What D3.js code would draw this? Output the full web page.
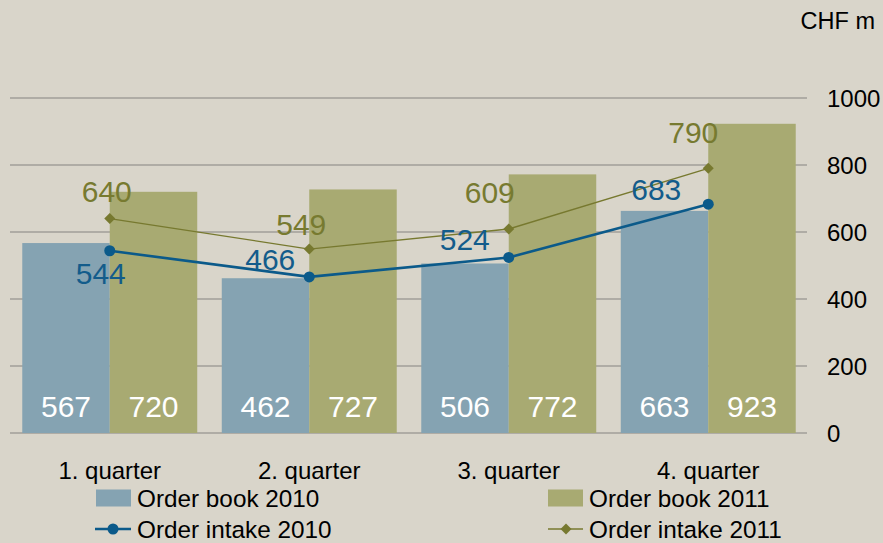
<!DOCTYPE html>
<html>
<head>
<meta charset="utf-8">
<script src="https://cdn.jsdelivr.net/npm/d3@7"></script>
<style>
  html, body { margin: 0; padding: 0; background: #d9d5ca; }
  svg { display: block; }
  text { font-family: "Liberation Sans", Arial, sans-serif; }
</style>
</head>
<body>
<svg id="chart" width="883" height="543"></svg>
<script>
// ---- data ----
const categories = ["1. quarter", "2. quarter", "3. quarter", "4. quarter"];
const orderBook2010 = [567, 462, 506, 663];
const orderBook2011 = [720, 727, 772, 923];
const orderIntake2010 = [544, 466, 524, 683];
const orderIntake2011 = [640, 549, 609, 790];
const yTicks = [0, 200, 400, 600, 800, 1000];
const unitLabel = "CHF m";
const legendLabels = ["Order book 2010", "Order book 2011", "Order intake 2010", "Order intake 2011"];

// label placement offsets (layout, relative to the point)
const intake2010LabelOffset = [[-9, 33], [-39, -7], [-44, -7], [-52, -4]];
const intake2011LabelOffset = [[-3, -17], [-8, -14], [-19, -26], [-15, -25]];

// ---- colours ----
const cBook10 = "#85a3b2";
const cBook11 = "#a8aa72";
const cLine10 = "#0b5a8a";
const cLine11 = "#77792f";
const cLab10 = "#135c8b";
const cLab11 = "#777a30";
const cGrid = "#a09e98";

const svg = d3.select("#chart");

const x0 = d3.scaleBand().domain(categories).range([10, 808]).paddingInner(0.123).paddingOuter(0.0615);
const x1 = d3.scaleBand().domain(["2010", "2011"]).range([0, x0.bandwidth()]);
const y = d3.scaleLinear().domain([0, 1000]).range([433, 98]);

// gridlines
svg.append("g").selectAll("line").data(yTicks).join("line")
  .attr("x1", 10).attr("x2", 807)
  .attr("y1", d => y(d)).attr("y2", d => y(d))
  .attr("stroke", cGrid).attr("stroke-width", 1.5);

// y tick labels
svg.append("g").selectAll("text").data(yTicks).join("text")
  .attr("x", 827).attr("y", d => y(d)).attr("dy", "0.36em")
  .attr("font-size", 24).attr("fill", "#000")
  .text(d => d);

svg.append("text").attr("x", 875).attr("y", 29).attr("text-anchor", "end")
  .attr("font-size", 23.5).attr("fill", "#000").text(unitLabel);

// bars
const g = svg.append("g");
categories.forEach((c, i) => {
  const bx = x0(c);
  [[orderBook2010[i], "2010", cBook10], [orderBook2011[i], "2011", cBook11]].forEach(([v, s, col]) => {
    g.append("rect")
      .attr("x", bx + x1(s)).attr("width", x1.bandwidth())
      .attr("y", y(v)).attr("height", y(0) - y(v))
      .attr("fill", col);
    g.append("text")
      .attr("x", bx + x1(s) + x1.bandwidth() / 2).attr("y", 417)
      .attr("text-anchor", "middle").attr("font-size", 30).attr("fill", "#fff")
      .text(v);
  });
});

// category labels
svg.append("g").selectAll("text").data(categories).join("text")
  .attr("x", d => x0(d) + x0.bandwidth() / 2).attr("y", 479)
  .attr("text-anchor", "middle").attr("font-size", 24).attr("fill", "#000")
  .text(d => d);

// lines
const px = (i) => x0(categories[i]) + x0.bandwidth() / 2;
const line = d3.line().x((d, i) => px(i)).y(d => y(d));

svg.append("path").datum(orderIntake2011).attr("d", line)
  .attr("fill", "none").attr("stroke", cLine11).attr("stroke-width", 1.3);
svg.append("g").selectAll("path").data(orderIntake2011).join("path")
  .attr("transform", (d, i) => `translate(${px(i)},${y(d)}) rotate(45)`)
  .attr("d", d3.symbol().type(d3.symbolSquare).size(60))
  .attr("fill", cLine11);

svg.append("path").datum(orderIntake2010).attr("d", line)
  .attr("fill", "none").attr("stroke", cLine10).attr("stroke-width", 2.6);
svg.append("g").selectAll("circle").data(orderIntake2010).join("circle")
  .attr("cx", (d, i) => px(i)).attr("cy", d => y(d)).attr("r", 5.5)
  .attr("fill", cLine10);

// line labels
svg.append("g").selectAll("text").data(orderIntake2011).join("text")
  .attr("x", (d, i) => px(i) + intake2011LabelOffset[i][0])
  .attr("y", (d, i) => y(d) + intake2011LabelOffset[i][1])
  .attr("text-anchor", "middle").attr("font-size", 30).attr("fill", cLab11)
  .text(d => d);
svg.append("g").selectAll("text").data(orderIntake2010).join("text")
  .attr("x", (d, i) => px(i) + intake2010LabelOffset[i][0])
  .attr("y", (d, i) => y(d) + intake2010LabelOffset[i][1])
  .attr("text-anchor", "middle").attr("font-size", 30).attr("fill", cLab10)
  .text(d => d);

// legend
const leg = svg.append("g");
const legendPos = [[96, 498], [548, 498], [96, 529], [548, 529]];
// swatches
[[0, cBook10], [1, cBook11]].forEach(([k, col]) => {
  leg.append("rect").attr("x", legendPos[k][0]).attr("y", legendPos[k][1] - 8.5)
    .attr("width", 35).attr("height", 17).attr("fill", col);
});
// line markers
leg.append("line").attr("x1", 95).attr("x2", 131).attr("y1", 529).attr("y2", 529)
  .attr("stroke", cLine10).attr("stroke-width", 2.6);
leg.append("circle").attr("cx", 113).attr("cy", 529).attr("r", 5.5).attr("fill", cLine10);
leg.append("line").attr("x1", 548).attr("x2", 583).attr("y1", 529).attr("y2", 529)
  .attr("stroke", cLine11).attr("stroke-width", 1.3);
leg.append("path").attr("transform", "translate(566,529) rotate(45)")
  .attr("d", d3.symbol().type(d3.symbolSquare).size(60)).attr("fill", cLine11);

legendLabels.forEach((t, k) => {
  leg.append("text").attr("x", legendPos[k][0] + 41).attr("y", legendPos[k][1]).attr("dy", "0.36em")
    .attr("font-size", 24.3).attr("fill", "#000").text(t);
});
</script>
</body>
</html>
